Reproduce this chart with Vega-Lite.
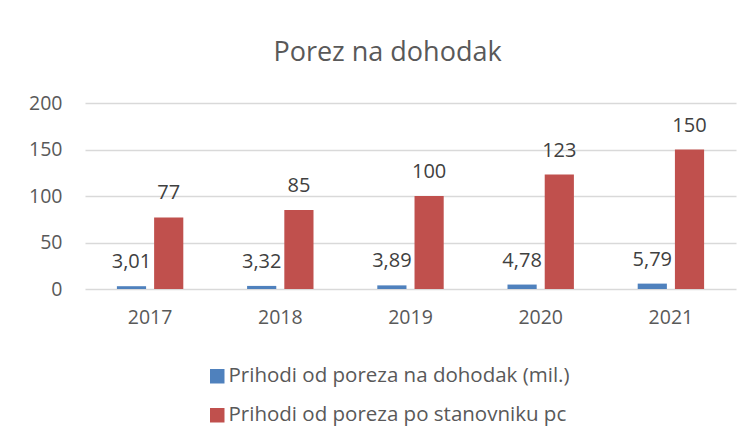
{
  "$schema": "https://vega.github.io/schema/vega-lite/v6.json",
  "width": 651,
  "height": 186,
  "autosize": {"type": "none"},
  "padding": {"left": 85, "top": 103, "right": 17, "bottom": 157},
  "background": "white",
  "config": {
    "view": {"stroke": null},
    "font": "Open Sans",
    "locale": {"number": {"decimal": ",", "thousands": ".", "grouping": [3], "currency": ["", " €"]}}
  },
  "title": {"text": "Porez na dohodak", "fontSize": 27, "fontWeight": "normal", "color": "#595959", "offset": 26, "dx": -23, "font": "Open Sans"},
  "data": {
    "values": [
      {"year": "2017", "series": "Prihodi od poreza na dohodak (mil.)", "value": 3.01},
      {"year": "2017", "series": "Prihodi od poreza po stanovniku pc", "value": 77},
      {"year": "2018", "series": "Prihodi od poreza na dohodak (mil.)", "value": 3.32},
      {"year": "2018", "series": "Prihodi od poreza po stanovniku pc", "value": 85},
      {"year": "2019", "series": "Prihodi od poreza na dohodak (mil.)", "value": 3.89},
      {"year": "2019", "series": "Prihodi od poreza po stanovniku pc", "value": 100},
      {"year": "2020", "series": "Prihodi od poreza na dohodak (mil.)", "value": 4.78},
      {"year": "2020", "series": "Prihodi od poreza po stanovniku pc", "value": 123},
      {"year": "2021", "series": "Prihodi od poreza na dohodak (mil.)", "value": 5.79},
      {"year": "2021", "series": "Prihodi od poreza po stanovniku pc", "value": 150}
    ]
  },
  "encoding": {
    "x": {
      "field": "year", "type": "nominal",
      "scale": {"paddingInner": 0.49, "paddingOuter": 0.245},
      "axis": {"title": null, "labelAngle": 0, "domain": false, "ticks": false, "labelPadding": 19, "labelFontSize": 19.5, "labelColor": "#595959", "labelFont": "Open Sans"}
    },
    "xOffset": {"field": "series", "type": "nominal", "scale": {"paddingInner": 0.216}},
    "y": {
      "field": "value", "type": "quantitative",
      "scale": {"domain": [0, 200]},
      "axis": {"title": null, "values": [0, 50, 100, 150, 200], "domain": false, "ticks": false, "labelPadding": 23, "labelFontSize": 19.5, "labelColor": "#595959", "gridColor": "#d9d9d9", "gridWidth": 1.5, "labelFont": "Open Sans"}
    }
  },
  "layer": [
    {
      "mark": {"type": "bar"},
      "encoding": {
        "color": {
          "field": "series", "type": "nominal",
          "scale": {"range": ["#4f81bd", "#c0504d"]},
          "legend": {
            "title": null, "orient": "none", "direction": "vertical",
            "legendX": 122, "legendY": 263,
            "symbolType": "square", "symbolSize": 210, "symbolStrokeWidth": 0,
            "labelFontSize": 20.5, "labelColor": "#595959", "labelFont": "Open Sans",
            "rowPadding": 18, "labelOffset": 1, "labelLimit": 600
          }
        }
      }
    },
    {
      "mark": {"type": "text", "fontSize": 20, "color": "#404040", "baseline": "alphabetic", "dy": -18, "font": "Open Sans"},
      "encoding": {
        "text": {"field": "value", "type": "quantitative", "format": ".3~r"}
      }
    }
  ]
}
